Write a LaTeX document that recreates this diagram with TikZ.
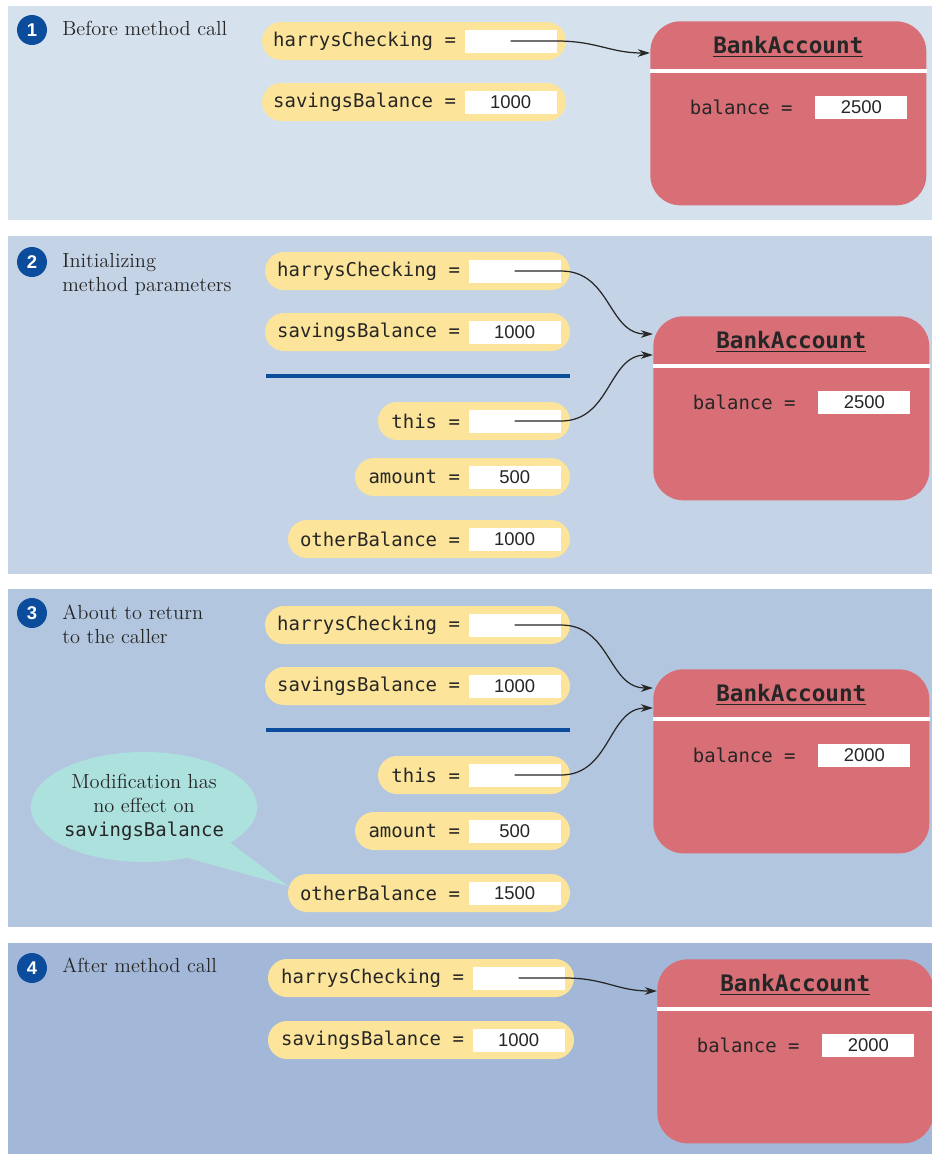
\documentclass[tikz,border=0pt]{standalone}
\usepackage{fontspec}
\setsansfont{Liberation Sans}
\setmonofont{DejaVu Sans Mono}
\usetikzlibrary{arrows.meta, calc, shapes.geometric}

\definecolor{panelA}{HTML}{D5E1ED}
\definecolor{panelB}{HTML}{C4D3E6}
\definecolor{panelC}{HTML}{B3C6DF}
\definecolor{panelD}{HTML}{A3B8D8}
\definecolor{pillyellow}{HTML}{FCE59B}
\definecolor{objred}{HTML}{D86F76}
\definecolor{bubblecol}{HTML}{ADE1DD}
\definecolor{navy}{HTML}{0B4D9C}
\definecolor{ink}{HTML}{262626}

\tikzset{
    pill/.style      = {fill=pillyellow, rounded corners=0.38cm},
    valbox/.style    = {fill=white, text=ink, minimum width=1.84cm, minimum height=0.46cm, inner sep=0pt, font=\sffamily\fontsize{10.5}{12}\selectfont},
    varlabel/.style  = {anchor=east, text=ink, inner sep=0pt, font=\ttfamily\fontsize{10.8}{12}\selectfont},
    object/.style    = {fill=objred, rounded corners=0.6cm, minimum width=5.52cm, minimum height=3.68cm, inner sep=0pt},
    classname/.style = {text=ink, inner sep=1pt, font=\ttfamily\bfseries\fontsize{12.9}{14}\selectfont},
    stepnum/.style   = {circle, fill=navy, text=white, minimum size=0.6cm, inner sep=0pt, font=\sffamily\bfseries\fontsize{10.5}{12}\selectfont},
    caption/.style   = {anchor=north west, align=left, text=ink, inner sep=0pt, font=\fontsize{11.6}{13.6}\selectfont},
    note/.style      = {ellipse, fill=bubblecol, text=ink, minimum width=4.52cm, minimum height=2.2cm, inner sep=0pt, align=center, font=\fontsize{11.6}{13.6}\selectfont},
    ref/.style       = {-{Stealth[length=7pt, width=4.4pt]}, black!85, line width=0.7pt},
    divider/.style   = {navy, line width=2.3pt},
}

% #1 name, #2 left x, #3 right x, #4 y, #5 label, #6 value
\newcommand{\varcell}[6]{%
  \fill[pill] (#2,#4-19) rectangle (#3,#4+19);
  \coordinate (#1-pill) at (#2,#4);
  \node[valbox, anchor=east] (#1) at (#3-9,#4) {#6};
  \node[varlabel] (#1-lab) at ($(#1.west)+(-8,0)$) {#5};
}
% #1 name, #2 left x, #3 top y, #4 balance
\newcommand{\bankobj}[4]{%
  \node[object, anchor=north west] (#1) at (#2,#3) {};
  \draw[white, line width=2.8pt] ($(#1.north west)+(0,50)$) -- ($(#1.north east)+(0,50)$);
  \node[classname] (#1-title) at ($(#1.north)+(0,26)$) {\underline{BankAccount}};
  \node[valbox, anchor=west] (#1-bal) at ($(#1.north west)+(165,86)$) {#4};
  \node[varlabel] (#1-lab) at ($(#1-bal.west)+(-22,0)$) {balance =};
}
\newcommand{\vname}[1]{{\ttfamily\fontsize{10.8}{13.6}\selectfont #1}}

\begin{document}
\begin{tikzpicture}[x=0.02cm, y=-0.02cm]
  \useasboundingbox (0,0) rectangle (932,1154);
  \foreach \ytop/\ybot/\col in {6/220/panelA, 236/574/panelB, 589/927/panelC, 943/1154/panelD}
    \fill[\col] (8,\ytop) rectangle (932,\ybot);

  % 1 before the call
  \node[stepnum] (n1) at (32,30) {1};
  \node[caption] (c1) at (62,21) {Before method call};
  \varcell{hc1}{262}{566}{41}{harrysChecking =}{}
  \varcell{sb1}{262}{566}{102}{savingsBalance =}{1000}
  \bankobj{acct1}{650}{21}{2500}
  \draw[ref] (hc1.center) -- (hc1.east) .. controls +(40,0) and +(-40,0) .. ($(acct1.north west)+(0,32)$);

  % 2 parameters
  \node[stepnum] (n2) at (32,262) {2};
  \node[caption] (c2) at (62,253) {Initializing\\method parameters};
  \varcell{hc2}{265}{570}{271}{harrysChecking =}{}
  \varcell{sb2}{265}{570}{332}{savingsBalance =}{1000}
  \draw[divider] (266,376) -- (570,376);
  \varcell{th2}{378}{570}{421}{this =}{}
  \varcell{am2}{355}{570}{477}{amount =}{500}
  \varcell{ob2}{288}{570}{539}{otherBalance =}{1000}
  \bankobj{acct2}{653}{316}{2500}
  \draw[ref] (hc2.center) -- (hc2.east) .. controls +(50,0) and +(-45,0) .. ($(acct2.north west)+(0,18)$);
  \draw[ref] (th2.center) -- (th2.east) .. controls +(50,0) and +(-45,0) .. ($(acct2.north west)+(0,39)$);

  % 3 before return
  \node[stepnum] (n3) at (32,613) {3};
  \node[caption] (c3) at (62,605) {About to return\\to the caller};
  \varcell{hc3}{265}{570}{625}{harrysChecking =}{}
  \varcell{sb3}{265}{570}{686}{savingsBalance =}{1000}
  \draw[divider] (266,730) -- (570,730);
  \varcell{th3}{378}{570}{775}{this =}{}
  \varcell{am3}{355}{570}{831}{amount =}{500}
  \varcell{ob3}{288}{570}{893}{otherBalance =}{1500}
  \bankobj{acct3}{653}{669}{2000}
  \draw[ref] (hc3.center) -- (hc3.east) .. controls +(50,0) and +(-45,0) .. ($(acct3.north west)+(0,19)$);
  \draw[ref] (th3.center) -- (th3.east) .. controls +(50,0) and +(-45,0) .. ($(acct3.north west)+(0,39)$);
  \node[note] (note3) at (144,807) {Modification has\\no effect on\\\vname{savingsBalance}};
  \fill[bubblecol] ($(note3.center)+(44,51)$) -- ($(ob3-pill)+(0,-7)$) -- ($(note3.center)+(84,34)$) -- cycle;

  % 4 after the call
  \node[stepnum] (n4) at (32,968) {4};
  \node[caption] (c4) at (62,958) {After method call};
  \varcell{hc4}{268}{574}{978}{harrysChecking =}{}
  \varcell{sb4}{268}{574}{1040}{savingsBalance =}{1000}
  \bankobj{acct4}{657}{959}{2000}
  \draw[ref] (hc4.center) -- (hc4.east) .. controls +(40,0) and +(-40,0) .. ($(acct4.north west)+(0,32)$);
\end{tikzpicture}
\end{document}
